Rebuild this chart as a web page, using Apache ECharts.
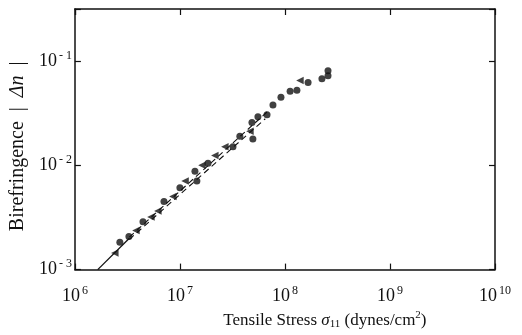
<!DOCTYPE html>
<html>
<head>
<meta charset="utf-8">
<script src="https://cdn.jsdelivr.net/npm/echarts@6/dist/echarts.min.js"></script>
<style>
html,body{margin:0;padding:0;background:#fff;}
#chart{width:522px;height:335px;}
</style>
</head>
<body>
<div id="chart"></div>
<script>
// ---- data ----
const xTicks = [1e6, 1e7, 1e8, 1e9, 1e10];
const yTicks = [1e-3, 1e-2, 1e-1];
const circlePoints = [
  [2.68e6, 1.83e-3], [3.27e6, 2.08e-3], [4.45e6, 2.87e-3], [7.05e6, 4.51e-3],
  [1.0e7, 6.1e-3], [1.45e7, 7.08e-3], [1.39e7, 8.79e-3], [1.85e7, 1.045e-2],
  [3.2e7, 1.51e-2], [3.72e7, 1.9e-2], [4.95e7, 1.79e-2], [4.85e7, 2.58e-2],
  [5.53e7, 2.93e-2], [6.75e7, 3.06e-2], [7.69e7, 3.79e-2], [9.16e7, 4.51e-2],
  [1.12e8, 5.13e-2], [1.3e8, 5.25e-2], [1.66e8, 6.22e-2], [2.25e8, 6.79e-2],
  [2.57e8, 7.24e-2], [2.57e8, 8.07e-2]
];
const trianglePoints = [
  [2.4e6, 1.44e-3], [3.81e6, 2.37e-3], [5.3e6, 3.2e-3], [6.17e6, 3.64e-3],
  [8.57e6, 5.02e-3], [1.12e7, 7.08e-3], [1.62e7, 1.0e-2], [2.15e7, 1.24e-2],
  [2.68e7, 1.51e-2], [4.64e7, 2.12e-2], [1.39e8, 6.5e-2]
];
const solidLine = [[1.65e6, 1.0e-3], [3.3e6, 2.0e-3]];
const dashedUpper = [[3.3e6, 2.05e-3], [7.2e7, 3.45e-2]];
const dashedLower = [[3.3e6, 1.95e-3], [6.5e7, 2.8e-2]];
const xName = 'Tensile Stress ';
const yName = 'Birefringence';

// ---- chart ----
const FONT = "'Liberation Serif', 'DejaVu Serif', serif";
const INK = '#111';
const chart = echarts.init(document.getElementById('chart'), null, {renderer: 'canvas'});

function isPow10(v) {
  const l = Math.log10(v);
  return Math.abs(l - Math.round(l)) < 1e-6;
}
function powLabel(v) {
  if (!isPow10(v)) return '';
  const e = Math.round(Math.log10(v));
  return '{b|10}{s|' + (e < 0 ? '- ' + (-e) : e) + '}';
}
const labelRich = {
  b: {fontFamily: FONT, fontSize: 18, color: INK},
  s: {fontFamily: FONT, fontSize: 12, color: INK, padding: [0, 0, 11, 2]}
};

const baseAxis = {
  type: 'log',
  logBase: 10,
  axisLine: {show: true, lineStyle: {color: INK, width: 1.5}},
  axisTick: {show: true, inside: true, length: 6, lineStyle: {color: INK, width: 1.2}},
  minorTick: {show: false},
  splitLine: {show: false}
};

chart.setOption({
  animation: false,
  backgroundColor: '#fff',
  grid: {left: 74, right: 27, top: 9, bottom: 59, containLabel: false},
  xAxis: [
    Object.assign({}, baseAxis, {
      min: xTicks[0], max: xTicks[xTicks.length - 1],
      position: 'bottom',
      axisLabel: {formatter: powLabel, rich: labelRich, margin: 15},
      name: '{n|' + xName + '}{i|σ}{sub|11}{n| (dynes/cm}{sup|2}{n|)}',
      nameLocation: 'middle', nameGap: 40,
      nameTextStyle: {
        padding: [0, 0, 0, 80],
        rich: {
          n: {fontFamily: FONT, fontSize: 17, color: INK},
          i: {fontFamily: FONT, fontSize: 17, fontStyle: 'italic', color: INK},
          sub: {fontFamily: FONT, fontSize: 11, color: INK, padding: [8, 0, 0, 0]},
          sup: {fontFamily: FONT, fontSize: 11, color: INK, padding: [0, 0, 10, 0]}
        }
      }
    }),
    Object.assign({}, baseAxis, {
      min: xTicks[0], max: xTicks[xTicks.length - 1],
      position: 'top',
      axisLabel: {show: false}
    })
  ],
  yAxis: [
    Object.assign({}, baseAxis, {
      min: yTicks[0], max: Math.pow(10, -0.5),
      position: 'left',
      axisLabel: {formatter: powLabel, rich: labelRich, margin: 3},
      name: '{n|' + yName + '  |  }{i|Δn}{n|  |}',
      nameLocation: 'middle', nameGap: 44,
      nameTextStyle: {
        padding: [0, 14, 0, 0],
        rich: {
          n: {fontFamily: FONT, fontSize: 20, color: INK},
          i: {fontFamily: FONT, fontSize: 20, fontStyle: 'italic', color: INK}
        }
      }
    }),
    Object.assign({}, baseAxis, {
      min: yTicks[0], max: Math.pow(10, -0.5),
      position: 'right',
      axisLabel: {show: false}
    })
  ],
  series: [
    {type: 'line', data: solidLine, symbol: 'none', lineStyle: {color: INK, width: 1.3}},
    {type: 'line', data: dashedUpper, symbol: 'none', lineStyle: {color: INK, width: 1.1, type: [6, 4]}},
    {type: 'line', data: dashedLower, symbol: 'none', lineStyle: {color: INK, width: 1.1, type: [6, 4]}},
    {type: 'scatter', data: circlePoints, symbol: 'circle', symbolSize: 7, itemStyle: {color: INK}},
    {type: 'scatter', data: trianglePoints, symbol: 'triangle', symbolRotate: 90, symbolSize: 7.5, itemStyle: {color: INK}}
  ]
});
</script>
</body>
</html>
